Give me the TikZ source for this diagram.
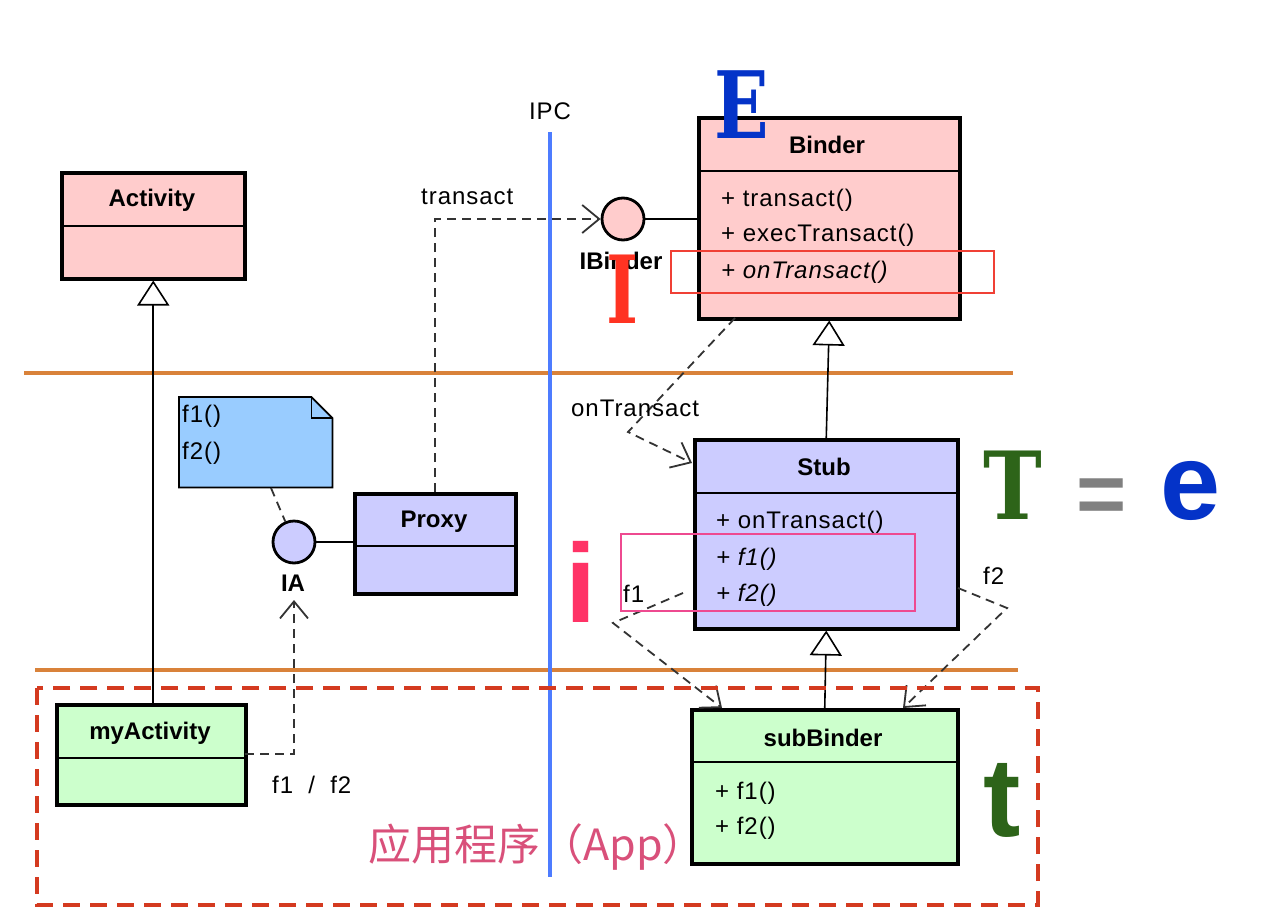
\documentclass[tikz,border=0pt]{standalone}
\usepackage{fontspec}
\setmainfont{Liberation Sans}
\newfontfamily\umlfont[LetterSpace=4]{Liberation Sans}
\newfontfamily\umlboldfont{Liberation Sans}
\newfontfamily\bigserif{DejaVu Serif}
\newfontfamily\bigsans{Liberation Sans}
\newfontfamily\cjk{Noto Sans CJK SC}
\usetikzlibrary{arrows.meta}
\definecolor{pinkc}{HTML}{FFCCCC}
\definecolor{lavc}{HTML}{CCCCFF}
\definecolor{greenc}{HTML}{CCFFCC}
\definecolor{notec}{HTML}{99CCFF}
\definecolor{orangec}{HTML}{D9823A}
\definecolor{ipcblue}{HTML}{4D7CFF}
\definecolor{thinred}{HTML}{F04035}
\definecolor{thinpink}{HTML}{EE4A90}
\definecolor{dashred}{HTML}{D43A20}
\definecolor{cjkpink}{HTML}{D9507A}
\definecolor{bigblue}{HTML}{0433C8}
\definecolor{bigred}{HTML}{FF3322}
\definecolor{bigpink}{HTML}{FF3366}
\definecolor{biggreen}{HTML}{2D6419}
\definecolor{biggray}{HTML}{808080}
\definecolor{depgray}{HTML}{333333}
\newcommand\umltitlefont{\umlboldfont\bfseries\fontsize{24}{28}\selectfont}
\newcommand\umlmethfont{\umlfont\fontsize{24}{28}\selectfont}
\tikzset{
  classbox/.style={draw=black, line width=3.5pt, inner sep=0pt, anchor=north west},
  sepline/.style={line width=1.8pt},
  umltitle/.style={font=\umltitlefont, inner sep=0pt},
  meth/.style={font=\umlmethfont, inner sep=0pt, anchor=west},
  lolli/.style={circle, draw=black, line width=2.8pt, minimum size=42pt, inner sep=0pt},
  conn/.style={line width=1.6pt},
  dline/.style={draw=depgray, line width=1.8pt, dash pattern=on 9pt off 6pt},
  dep/.style={dline, -{Straight Barb[length=17pt,width=28pt]}},
  inherit/.style={line width=1.6pt, -{Triangle[length=25pt,width=32pt,fill=white]}},
  bigletter/.style={inner sep=0pt, anchor=base},
}
\begin{document}
\begin{tikzpicture}[x=1pt,y=-1pt]
\fill[white] (0,0) rectangle (1266,918);
\useasboundingbox (0,0) rectangle (1266,918);

% swimlane lines
\draw[orangec, line width=3.5pt] (24,373) -- (1013,373);
\draw[orangec, line width=3.5pt] (35,670) -- (1018,670);

% classes
\node[classbox, fill=pinkc, minimum width=183pt, minimum height=106pt] (activity) at (60,171) {};
\draw[sepline] (activity.west |- 0,226) -- (activity.east |- 0,226);
\node[umltitle] (activityT) at (152,200) {Activity};

\node[classbox, fill=pinkc, minimum width=261pt, minimum height=201pt] (binder) at (697,116) {};
\draw[sepline] (binder.west |- 0,171) -- (binder.east |- 0,171);
\node[umltitle] (binderT) at (827,145) {Binder};
\node[meth] (binderM1) at (721,200) {+ transact()};
\node[meth] (binderM2) at (721,235) {+ execTransact()};
\node[meth, font=\umlmethfont\itshape] (binderM3) at (721,272) {+ onTransact()};

\node[classbox, fill=lavc, minimum width=263pt, minimum height=189pt] (stub) at (693,438) {};
\draw[sepline] (stub.west |- 0,493) -- (stub.east |- 0,493);
\node[umltitle] (stubT) at (824,467) {Stub};
\node[meth] (stubM1) at (716,522) {+ onTransact()};
\node[meth, font=\umlmethfont\itshape] (stubM2) at (716,559) {+ f1()};
\node[meth, font=\umlmethfont\itshape] (stubM3) at (716,595) {+ f2()};

\node[classbox, fill=greenc, minimum width=266pt, minimum height=154pt] (subbinder) at (690,708) {};
\draw[sepline] (subbinder.west |- 0,762) -- (subbinder.east |- 0,762);
\node[umltitle] (subbinderT) at (823,738) {subBinder};
\node[meth] (subM1) at (715,793) {+ f1()};
\node[meth] (subM2) at (715,828) {+ f2()};

\node[classbox, fill=lavc, minimum width=161pt, minimum height=100pt] (proxy) at (353,492) {};
\draw[sepline] (proxy.west |- 0,546) -- (proxy.east |- 0,546);
\node[umltitle] (proxyT) at (434,522) {Proxy};

\node[classbox, fill=greenc, minimum width=189pt, minimum height=100pt] (myact) at (55,703) {};
\draw[sepline] (myact.west |- 0,758) -- (myact.east |- 0,758);
\node[umltitle] (myactT) at (150,733) {myActivity};

% note
\node[inner sep=0pt, minimum width=153pt, minimum height=90pt, anchor=north west] (note) at (179,397) {};
\draw[fill=notec, line width=1.8pt] (note.north west) -- ([xshift=-21pt]note.north east) -- ([yshift=-21pt]note.north east) -- (note.south east) -- (note.south west) -- cycle;
\draw[line width=1.8pt] ([xshift=-21pt]note.north east) |- ([yshift=-21pt]note.north east);
\node[meth] (noteT1) at (182,416) {f1()};
\node[meth] (noteT2) at (182,453) {f2()};

% lollipops
\node[lolli, fill=pinkc] (ibinder) at (623,219) {};
\draw[conn] (ibinder) -- (binder.west |- ibinder);
\node[umltitle] (ibinderL) at (621,261) {IBinder};
\node[lolli, fill=lavc] (ia) at (294,542) {};
\draw[conn] (ia) -- (proxy.west |- ia);
\node[umltitle] (iaL) at (293,583) {IA};

% generalisations
\draw[inherit] (myact.north -| activity.south) -- (activity.south);
\draw[inherit] (stub.north) -- (binder.south);
\draw[inherit] (subbinder.north) -- (stub.south);

% dependencies
\coordinate (noteA) at (271,488);
\draw[dline] (noteA) -- (ia);
\draw[dep] (proxy.north) |- (ibinder.west);
\node[meth] (transactL) at (421,197) {transact};

\coordinate (ot0) at (735,318);
\coordinate (ot1) at (628,432);
\coordinate (ot2) at (692,463);
\draw[dep] (ot0) -- (ot1) -- (ot2);
\node[meth] (otL) at (571,408) {onTransact};

\coordinate (f1a) at (683,593);
\coordinate (f1b) at (613,623);
\coordinate (f1c) at (722,708);
\draw[dep] (f1a) -- (f1b) -- (f1c);
\node[meth] (f1L) at (623,594) {f1};

\coordinate (f2a) at (958,588);
\coordinate (f2b) at (1007,608);
\coordinate (f2c) at (903,708);
\draw[dep] (f2a) -- (f2b) -- (f2c);
\node[meth] (f2L) at (983,576) {f2};

\coordinate (maOut) at (245,754);
\coordinate (iaTip) at (294,600);
\draw[dep] (maOut) -| (iaTip);
\node[meth] (f12L) at (272,785) {f1\ \ /\ \ f2};

% IPC line
\draw[ipcblue, line width=3.5pt] (550,132) -- (550,877);
\node[font=\umlmethfont, inner sep=0pt] (ipcL) at (550,111) {IPC};

% highlight boxes
\draw[thinred, line width=1.2pt] (671,251) rectangle (994,293);
\draw[thinpink, line width=1.5pt] (621,534) rectangle (915,611);
\draw[dashred, line width=3.5pt, dash pattern=on 17pt off 10pt] (37,688) rectangle (1038,905);

\node[font=\cjk\fontsize{43}{50}\selectfont, text=cjkpink, inner sep=0pt] (app) at (537,847) {应用程序（App）};

% big letters
\node[bigletter, font=\bigserif\bfseries\fontsize{93}{100}\selectfont, text=bigblue] (bigE) at (742,138) {\scalebox{0.77}[1]{E}};
\node[bigletter, font=\bigserif\bfseries\fontsize{94}{100}\selectfont, text=bigred] (bigI) at (623,323) {\scalebox{0.73}[1]{I}};
\node[bigletter, font=\bigserif\bfseries\fontsize{94}{100}\selectfont, text=biggreen] (bigT) at (1013,519) {\scalebox{0.84}[1]{T}};
\node[bigletter, font=\bigsans\bfseries\fontsize{86}{100}\selectfont, text=biggray] (bigEq) at (1102,523) {=};
\node[bigletter, font=\bigsans\bfseries\fontsize{108}{120}\selectfont, text=bigblue] (bige) at (1191,519) {e};
\node[bigletter, font=\bigsans\bfseries\fontsize{112}{120}\selectfont, text=bigpink] (bigi) at (581,622) {i};
\node[bigletter, font=\bigsans\bfseries\fontsize{112}{120}\selectfont, text=biggreen] (bigt) at (1002,836) {t};
\end{tikzpicture}
\end{document}
